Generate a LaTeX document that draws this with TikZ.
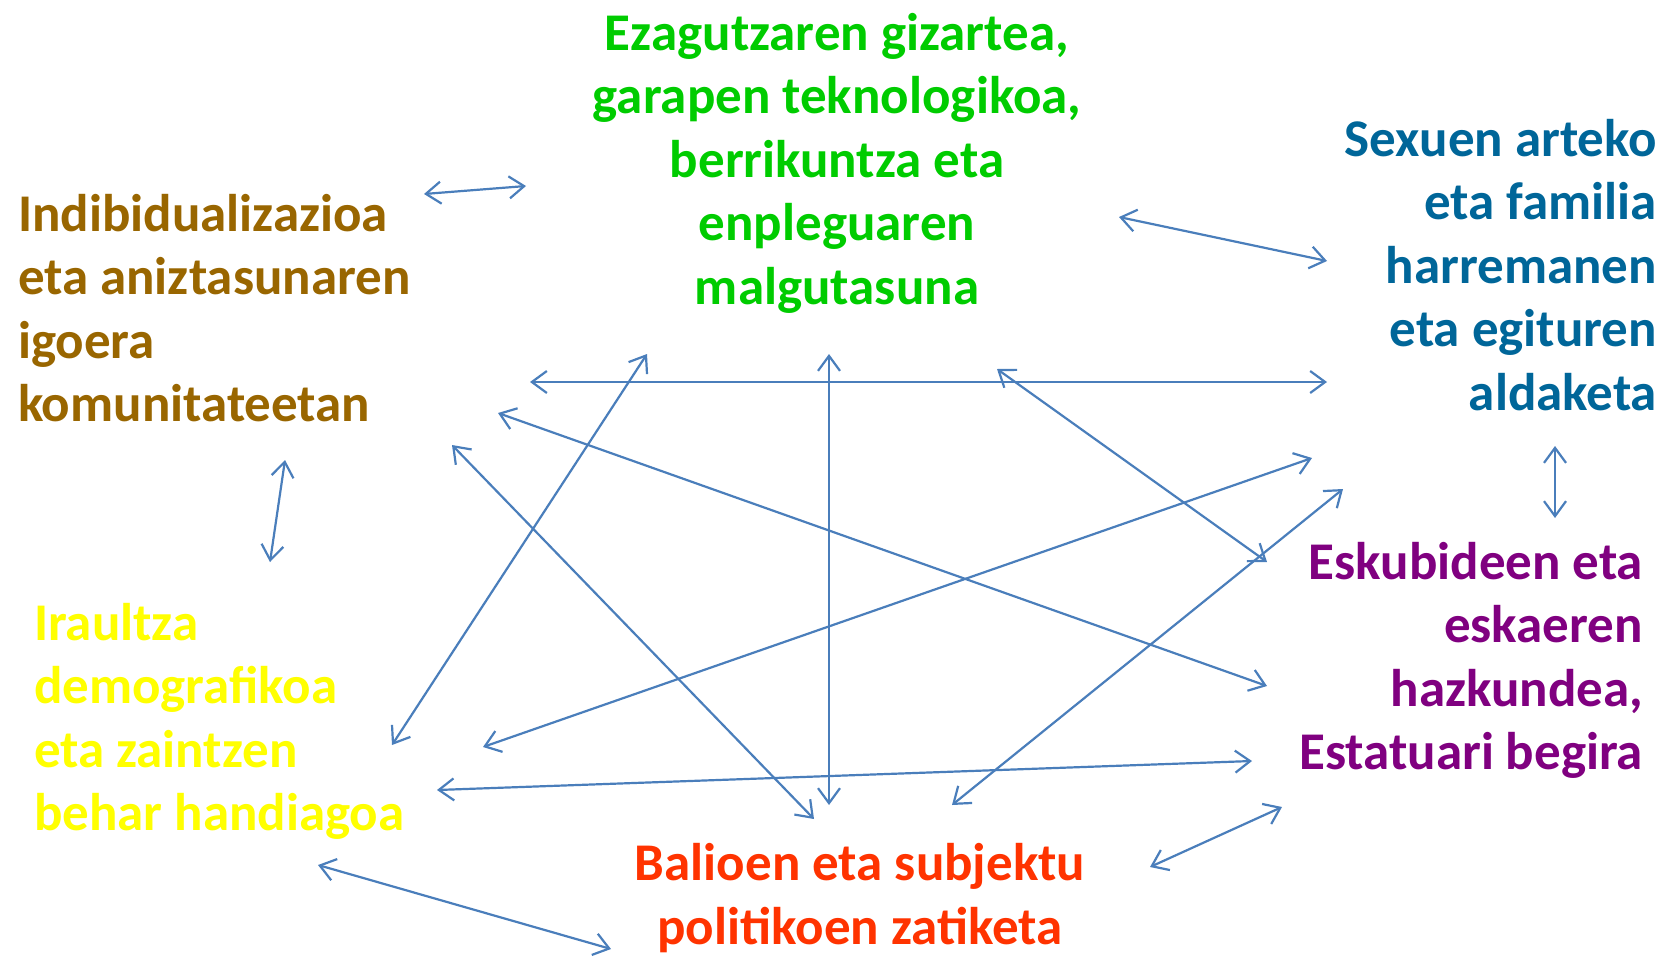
\documentclass[tikz,border=0pt]{standalone}
\usepackage{fontspec}
\setmainfont{Carlito}
\usetikzlibrary{arrows.meta}

\definecolor{brownish}{RGB}{153,102,0}
\definecolor{greenish}{RGB}{0,204,0}
\definecolor{bluish}{RGB}{0,102,153}
\definecolor{purplish}{RGB}{128,0,128}
\definecolor{yellowish}{RGB}{255,255,0}
\definecolor{reddish}{RGB}{255,51,0}
\definecolor{linkblue}{RGB}{74,126,187}

\tikzset{every picture/.style={line width=2pt}}
\tikzset{
  theme/.style={inner sep=0pt, font=\fontsize{53}{63.5}\selectfont\bfseries},
  link/.style={draw=linkblue, line width=2.2pt,
    {Straight Barb[length=15pt,width=22pt]}-{Straight Barb[length=15pt,width=22pt]}}
}

\begin{document}
\begin{tikzpicture}[x=1pt,y=1pt,yscale=-1,xscale=1]
    \useasboundingbox (0,0) rectangle (1661,956);

    % Text Node (anchored at the baseline of its last line)
    \node (indiv) [theme, text=brownish, anchor=base west, align=left] at (17,421.5)
      {Indibidualizazioa\\eta aniztasunaren\\igoera\\komunitateetan};
    % Text Node
    \node (ezagutza) [theme, text=greenish, anchor=base, align=center] at (837,304)
      {Ezagutzaren gizartea,\\garapen teknologikoa,\\berrikuntza eta\\enpleguaren\\malgutasuna};
    % Text Node
    \node (sexuen) [theme, text=bluish, anchor=base east, align=right] at (1658,410)
      {Sexuen arteko\\eta familia\\harremanen\\eta egituren\\aldaketa};
    % Text Node
    \node (eskubide) [theme, text=purplish, anchor=base east, align=right] at (1644,769.5)
      {Eskubideen eta\\eskaeren\\hazkundea,\\Estatuari begira};
    % Text Node
    \node (iraultza) [theme, text=yellowish, anchor=base west, align=left] at (33,830.5)
      {Iraultza\\demografikoa\\eta zaintzen\\behar handiagoa};
    % Text Node
    \node (balio) [theme, text=reddish, anchor=base, align=center] at (860,944)
      {Balioen eta subjektu\\politikoen zatiketa};

    %Arrow ends
    \coordinate (a1) at (424,194);  \coordinate (b1) at (526,186);
    \coordinate (a2) at (1119,217); \coordinate (b2) at (1327,261);
    \coordinate (a3) at (530,382);  \coordinate (b3) at (1327,382);
    \coordinate (a4) at (997,369);  \coordinate (b4) at (1267,562);
    \coordinate (a5) at (829,354);  \coordinate (b5) at (829,805);
    \coordinate (a6) at (647,354);  \coordinate (b6) at (392,745);
    \coordinate (a7) at (498,413);  \coordinate (b7) at (1267,686);
    \coordinate (a8) at (452,445);  \coordinate (b8) at (814,819);
    \coordinate (a9) at (1312,458); \coordinate (b9) at (483,747);
    \coordinate (a10) at (1343,489); \coordinate (b10) at (952,805);
    \coordinate (a11) at (1555,446); \coordinate (b11) at (1555,518);
    \coordinate (a12) at (285,460);  \coordinate (b12) at (270,562);
    \coordinate (a13) at (437,790);  \coordinate (b13) at (1252,761);
    \coordinate (a14) at (1282,807); \coordinate (b14) at (1150,867);
    \coordinate (a15) at (318,865);  \coordinate (b15) at (611,949);

    %Straight Lines
    \foreach \i in {1,...,15}
      \draw [link] (a\i) -- (b\i);

\end{tikzpicture}
\end{document}
